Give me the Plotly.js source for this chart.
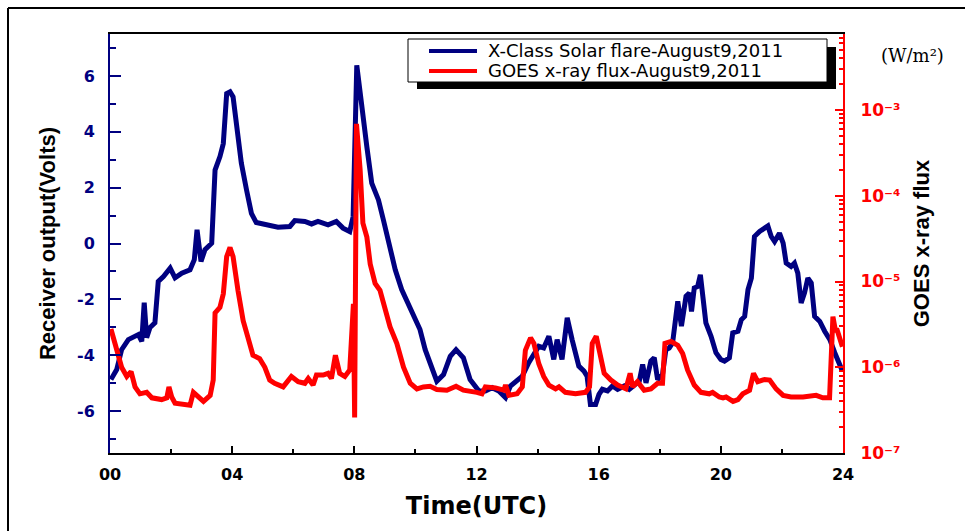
<!DOCTYPE html>
<html>
<head>
<meta charset="utf-8">
<script src="https://cdn.plot.ly/plotly-3.0.1.min.js"></script>
<style>html,body{margin:0;padding:0;background:#fff;}#chart{width:965px;height:531px;}</style>
</head>
<body>
<div id="chart"></div>
<script>
// Receiver output (Volts) vs time (UTC hours)
const hoursReceiver = [0.03,0.22,0.38,0.6,0.93,1.04,1.12,1.2,1.31,1.47,1.58,1.75,1.97,2.13,2.35,2.62,2.76,2.85,2.98,3.11,3.33,3.44,3.6,3.71,3.82,3.93,4.03,4.14,4.3,4.47,4.63,4.79,5.07,5.5,5.89,6.05,6.38,6.6,6.81,7.14,7.41,7.63,7.85,7.96,8.08,8.25,8.41,8.57,8.79,8.95,9.17,9.34,9.55,9.83,10.15,10.32,10.54,10.7,10.92,11.14,11.33,11.57,11.79,12.01,12.08,12.29,12.51,12.73,12.95,13.11,13.33,13.5,13.71,13.88,14.04,14.2,14.37,14.53,14.64,14.8,14.97,15.13,15.35,15.52,15.62,15.73,15.9,16.01,16.12,16.29,16.45,16.62,16.84,17.0,17.16,17.33,17.44,17.55,17.71,17.82,17.93,18.09,18.2,18.31,18.42,18.53,18.59,18.71,18.86,18.97,19.04,19.13,19.24,19.33,19.4,19.51,19.68,19.84,20.0,20.12,20.28,20.39,20.56,20.67,20.78,20.89,21.0,21.1,21.27,21.44,21.54,21.65,21.76,21.92,22.04,22.14,22.3,22.41,22.52,22.63,22.74,22.85,22.96,23.07,23.24,23.4,23.57,23.73,23.89,23.98];
const voltsReceiver = [-4.87,-4.51,-3.8,-3.44,-3.26,-3.5,-2.12,-3.37,-3.01,-2.84,-1.36,-1.18,-0.88,-1.23,-1.06,-0.94,-0.58,0.49,-0.64,-0.22,0.01,2.63,3.11,3.58,5.37,5.43,5.25,4.3,2.88,1.92,1.08,0.75,0.67,0.58,0.61,0.82,0.79,0.7,0.79,0.67,0.79,0.55,0.43,0.96,6.38,4.78,3.46,2.16,1.56,0.85,-0.11,-0.94,-1.65,-2.37,-3.08,-3.8,-4.39,-4.93,-4.69,-4.04,-3.8,-4.09,-4.87,-5.16,-5.28,-5.28,-5.16,-5.28,-5.52,-5.1,-4.93,-4.75,-4.27,-3.98,-3.68,-3.74,-3.32,-4.15,-3.44,-4.15,-2.66,-3.44,-4.39,-4.57,-4.75,-5.76,-5.76,-5.4,-5.22,-5.28,-5.1,-5.22,-5.1,-5.22,-5.1,-4.93,-4.33,-4.99,-4.21,-4.09,-4.87,-4.69,-3.8,-3.74,-3.56,-2.73,-2.07,-2.96,-1.89,-1.77,-2.43,-1.59,-1.54,-1.12,-1.77,-2.84,-3.32,-3.91,-4.15,-4.21,-4.09,-3.2,-3.14,-2.73,-2.61,-1.65,-1.24,0.25,0.43,0.55,0.63,0.25,0.07,0.37,0.01,-0.7,-0.82,-0.7,-1.06,-2.13,-1.77,-1.24,-1.41,-2.61,-2.79,-3.14,-3.44,-3.91,-4.33,-4.57];

// GOES x-ray flux (W/m^2) vs time (UTC hours)
const hoursGoes = [0.03,0.22,0.38,0.55,0.69,0.82,0.98,1.2,1.37,1.69,1.86,1.93,2.02,2.13,2.4,2.62,2.73,2.89,3.06,3.28,3.38,3.44,3.6,3.71,3.82,3.93,4.03,4.19,4.36,4.52,4.68,4.9,5.07,5.23,5.39,5.67,5.94,6.16,6.38,6.49,6.65,6.76,6.98,7.14,7.25,7.38,7.52,7.69,7.85,7.97,8.01,8.07,8.19,8.28,8.41,8.52,8.68,8.84,9.01,9.17,9.39,9.61,9.83,10.05,10.26,10.48,10.7,11.03,11.33,11.57,12.01,12.18,12.29,12.62,12.9,12.95,13.06,13.33,13.5,13.6,13.77,13.88,14.04,14.2,14.37,14.59,14.7,14.91,15.24,15.57,15.7,15.79,15.92,16.03,16.18,16.4,16.62,16.89,17.03,17.11,17.27,17.49,17.71,17.93,18.09,18.17,18.37,18.59,18.75,18.91,19.13,19.35,19.62,19.73,19.95,20.07,20.17,20.4,20.56,20.72,20.94,21.07,21.21,21.43,21.6,21.81,22.04,22.3,22.69,23.12,23.34,23.56,23.62,23.67,23.75,23.81,23.98];
const fluxGoes = [2.8e-6,1.58e-6,1.0e-6,7.8e-7,8.9e-7,5.9e-7,4.9e-7,5.1e-7,4.4e-7,4.2e-7,4.4e-7,5.9e-7,4.5e-7,3.8e-7,3.7e-7,3.6e-7,5.1e-7,4.5e-7,4.0e-7,4.7e-7,7.1e-7,4.3e-6,5.0e-6,7.2e-6,1.95e-5,2.5e-5,1.95e-5,7.9e-6,3.5e-6,2.2e-6,1.38e-6,1.26e-6,1.0e-6,7.1e-7,6.5e-7,5.9e-7,7.8e-7,6.8e-7,6.5e-7,7.4e-7,6.2e-7,8.1e-7,8.1e-7,8.5e-7,7.4e-7,1.38e-6,8.5e-7,7.8e-7,9.3e-7,5.5e-6,2.6e-7,6.9e-4,2.0e-4,4.8e-5,3.3e-5,1.6e-5,9.5e-6,7.9e-6,5.0e-6,2.95e-6,1.9e-6,1.0e-6,6.5e-7,5.6e-7,5.9e-7,6.0e-7,5.5e-7,5.4e-7,6.0e-7,5.4e-7,5.1e-7,4.9e-7,5.9e-7,5.75e-7,5.4e-7,6.2e-7,4.7e-7,4.9e-7,5.9e-7,1.58e-6,2.2e-6,1.9e-6,1.1e-6,7.8e-7,6.2e-7,5.6e-7,5.9e-7,5.1e-7,4.9e-7,5.1e-7,5.9e-7,1.9e-6,2.3e-6,1.58e-6,8.5e-7,7.1e-7,6.2e-7,5.6e-7,8.5e-7,5.9e-7,6.8e-7,5.4e-7,5.6e-7,6.5e-7,6.5e-7,1.9e-6,2.0e-6,1.8e-6,1.45e-6,9.3e-7,6.2e-7,5.1e-7,4.9e-7,5.1e-7,4.5e-7,4.4e-7,4.5e-7,4.0e-7,4.2e-7,4.9e-7,5.4e-7,8.5e-7,6.8e-7,7.2e-7,7.1e-7,5.6e-7,4.7e-7,4.5e-7,4.5e-7,4.7e-7,4.4e-7,4.4e-7,1.3e-6,3.9e-6,2.7e-6,2.7e-6,1.74e-6];

const seriesNames = ['X-Class Solar flare-August9,2011', 'GOES x-ray flux-August9,2011'];
const voltTicks = [-6,-4,-2,0,2,4,6];
const voltTickText = ['-6','-4','-2','0','2','4','6'];
const fluxTicks = [1e-7,1e-6,1e-5,1e-4,1e-3];
const fluxTickText = ['10⁻⁷','10⁻⁶','10⁻⁵','10⁻⁴','10⁻³'];

const NAVY = '#000080', RED = '#ff0000';
// pixel -> paper helpers (plot area 110..843 x 34..453)
const PL = 110, PR = 843, PT = 34, PB = 453;
const fx = p => (p - PL) / (PR - PL);
const fy = p => (PB - p) / (PB - PT);

const traces = [
  {x: hoursReceiver, y: voltsReceiver, type: 'scatter', mode: 'lines', name: seriesNames[0],
   line: {color: NAVY, width: 5}, yaxis: 'y', showlegend: false},
  {x: hoursGoes, y: fluxGoes, type: 'scatter', mode: 'lines', name: seriesNames[1],
   line: {color: RED, width: 5}, yaxis: 'y2', showlegend: false}
];

const tickFontBold = {family: 'DejaVu Sans', size: 16, weight: 'bold'};

const layout = {
  width: 965, height: 531,
  margin: {l: PL, r: 965 - PR, t: PT, b: 531 - PB, pad: 0},
  paper_bgcolor: '#ffffff', plot_bgcolor: '#ffffff',
  showlegend: false,
  xaxis: {
    range: [0, 24], dtick: 4, tick0: 0, tickformat: '02d',
    showline: true, linecolor: '#000', linewidth: 2, mirror: true,
    ticks: 'inside', ticklen: 7, tickwidth: 2, tickcolor: '#000',
    minor: {dtick: 2, tick0: 0, ticks: 'inside', ticklen: 4, tickwidth: 2, tickcolor: '#000', showgrid: false},
    showgrid: false, zeroline: false,
    tickfont: Object.assign({color: '#000'}, tickFontBold),
    ticklabelstandoff: 6,
    title: {text: 'Time(UTC)', font: {family: 'DejaVu Sans', size: 24, weight: 'bold', color: '#000'}, standoff: 14}
  },
  yaxis: {
    range: [-7.5, 7.5], tickmode: 'array', tickvals: voltTicks, ticktext: voltTickText,
    showline: true, linecolor: NAVY, linewidth: 2,
    ticks: 'inside', ticklen: 11, tickwidth: 2, tickcolor: NAVY,
    minor: {tickmode: 'linear', dtick: 1, tick0: 0, ticks: 'inside', ticklen: 6, tickwidth: 2, tickcolor: NAVY, showgrid: false},
    showgrid: false, zeroline: false,
    tickfont: Object.assign({color: NAVY}, tickFontBold),
    ticklabelstandoff: 10,
    title: {text: 'Receiver output(Volts)', font: {family: 'Liberation Sans', size: 22, weight: 'bold', color: '#000'}, standoff: 15}
  },
  yaxis2: {
    type: 'log', range: [-7, -2.113], overlaying: 'y', side: 'right', anchor: 'x',
    tickmode: 'array', tickvals: fluxTicks, ticktext: fluxTickText,
    showline: true, linecolor: RED, linewidth: 2,
    ticks: 'inside', ticklen: 8, tickwidth: 2, tickcolor: RED,
    minor: {dtick: 'D1', ticks: 'inside', ticklen: 4, tickwidth: 2, tickcolor: RED, showgrid: false},
    showgrid: false, zeroline: false,
    tickfont: {family: 'DejaVu Sans', size: 17, weight: 'bold', color: RED},
    ticklabelstandoff: 12,
    title: {text: 'GOES x-ray flux', font: {family: 'Liberation Sans', size: 22, weight: 'bold', color: '#000'}, standoff: 14}
  },
  shapes: [
    // outer frame (left and top edges)
    {type: 'line', xref: 'paper', yref: 'paper', x0: fx(8), x1: fx(8), y0: fy(8), y1: fy(545), line: {color: '#000', width: 2}},
    {type: 'line', xref: 'paper', yref: 'paper', x0: fx(8), x1: fx(975), y0: fy(8), y1: fy(8), line: {color: '#000', width: 2}},
    // legend shadow and box
    {type: 'rect', xref: 'paper', yref: 'paper', x0: fx(417), x1: fx(836), y0: fy(89), y1: fy(47), fillcolor: '#000', line: {width: 0}, layer: 'above'},
    {type: 'rect', xref: 'paper', yref: 'paper', x0: fx(408), x1: fx(827), y0: fy(82), y1: fy(39), fillcolor: '#fff', line: {color: '#000', width: 1}, layer: 'above'},
    {type: 'line', xref: 'paper', yref: 'paper', x0: fx(429), x1: fx(477), y0: fy(51), y1: fy(51), line: {color: NAVY, width: 4}, layer: 'above'},
    {type: 'line', xref: 'paper', yref: 'paper', x0: fx(429), x1: fx(477), y0: fy(71), y1: fy(71), line: {color: RED, width: 4}, layer: 'above'}
  ],
  annotations: [
    {xref: 'paper', yref: 'paper', x: fx(486), y: fy(51), xanchor: 'left', yanchor: 'middle', showarrow: false,
     text: seriesNames[0], font: {family: 'DejaVu Sans', size: 18, color: '#000'}},
    {xref: 'paper', yref: 'paper', x: fx(486), y: fy(71), xanchor: 'left', yanchor: 'middle', showarrow: false,
     text: seriesNames[1], font: {family: 'DejaVu Sans', size: 18, color: '#000'}},
    {xref: 'paper', yref: 'paper', x: fx(912), y: fy(55), xanchor: 'center', yanchor: 'middle', showarrow: false,
     text: '(W/m²)', font: {family: 'DejaVu Serif', size: 18, color: '#000'}}
  ]
};

Plotly.newPlot('chart', traces, layout, {staticPlot: true, displayModeBar: false});
</script>
</body>
</html>
